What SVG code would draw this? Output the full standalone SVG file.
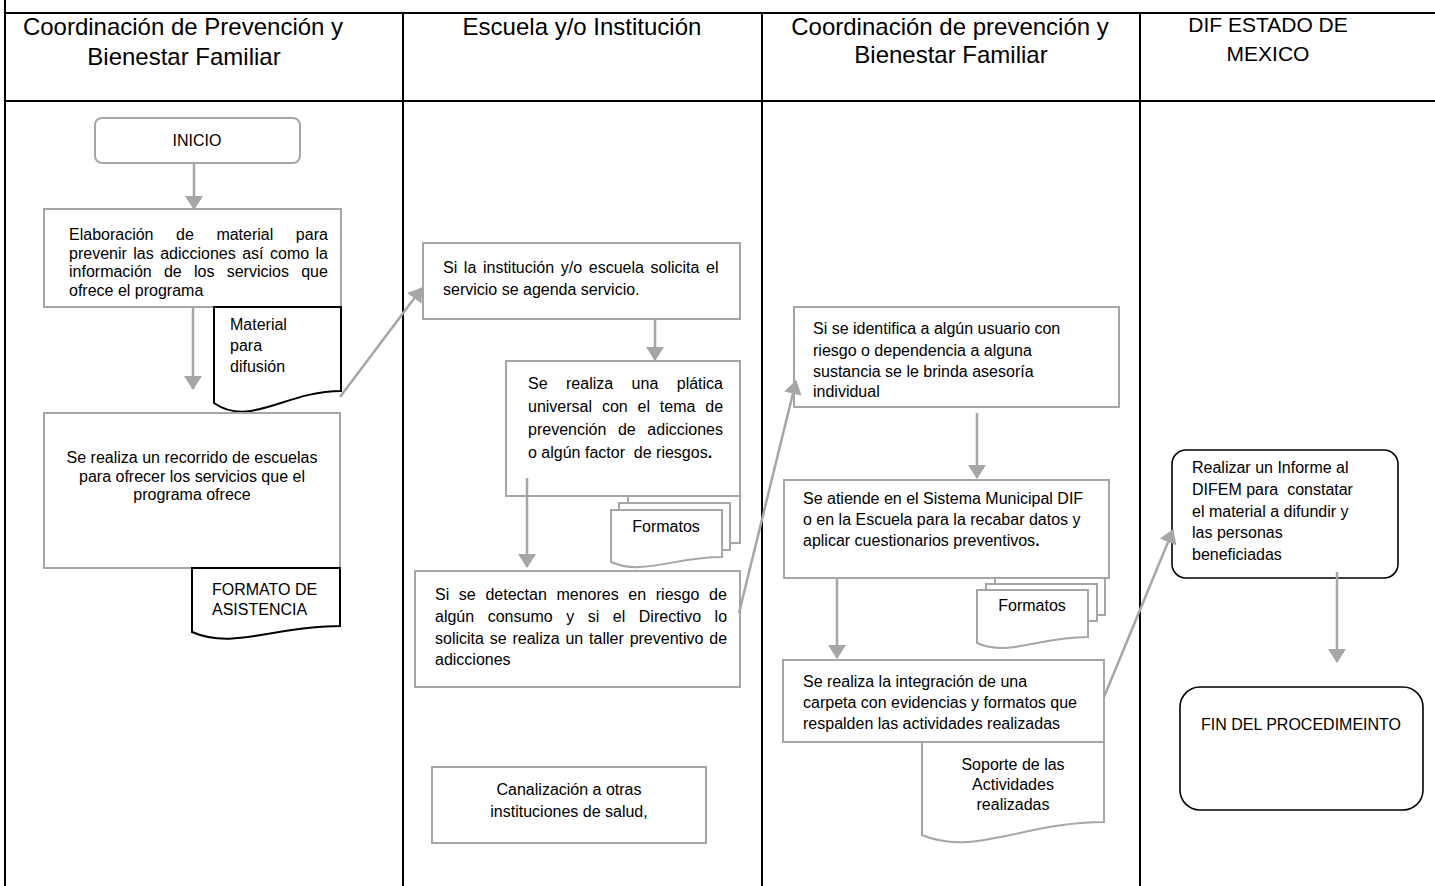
<svg xmlns="http://www.w3.org/2000/svg" width="1435" height="886" viewBox="0 0 1435 886">
  <style>
    text { font-family: "Liberation Sans", Arial, sans-serif; font-size: 16px; fill: #000; }
    .hd { font-size: 24px; }
    .hd2 { font-size: 21px; }
    .mid { text-anchor: middle; }
    .grid { stroke: #000; stroke-width: 2; fill: none; }
    .box { fill: #fff; stroke: #a6a6a6; stroke-width: 2; }
    .doc { fill: #fff; stroke: #000; stroke-width: 2; }
    .gdoc { fill: #fff; stroke: #a6a6a6; stroke-width: 2; }
    .term { fill: #fff; stroke: #000; stroke-width: 1.6; }
    .flow { fill: none; stroke: #a6a6a6; stroke-width: 2.5; marker-end: url(#ah); }
  </style>
  <defs>
    <marker id="ah" viewBox="0 0 14 18" refX="13" refY="9" markerWidth="14" markerHeight="18" markerUnits="userSpaceOnUse" orient="auto">
      <path d="M0,0 L14,9 L0,18 Z" fill="#a6a6a6"/>
    </marker>
  </defs>

  <rect width="1435" height="886" fill="#fff"/>

  <!-- swimlane table -->
  <g id="lanes">
    <path class="grid" d="M5,0 V886 M5,13 H1435 M5,101 H1435 M403,13 V886 M762,13 V886 M1140,13 V886"/>
    <text class="hd mid" x="183" y="35">Coordinación de Prevención y</text>
    <text class="hd mid" x="184" y="65">Bienestar Familiar</text>
    <text class="hd mid" x="582" y="35">Escuela y/o Institución</text>
    <text class="hd mid" x="950" y="35">Coordinación de prevención y</text>
    <text class="hd mid" x="951" y="63">Bienestar Familiar</text>
    <text class="hd2 mid" x="1268" y="32">DIF ESTADO DE</text>
    <text class="hd2 mid" x="1268" y="61">MEXICO</text>
  </g>

  <!-- lane 1 -->
  <g id="inicio">
    <rect class="box" x="95" y="118" width="205" height="45" rx="7"/>
    <text class="mid" x="197" y="146">INICIO</text>
  </g>
  <g id="elaboracion">
    <rect class="box" x="44" y="209" width="297" height="98"/>
    <text x="69" y="240" style="word-spacing:18.1px">Elaboración de material para</text>
    <text x="69" y="258.5" style="word-spacing:2px">prevenir las adicciones así como la</text>
    <text x="69" y="277" style="word-spacing:7.8px">información de los servicios que</text>
    <text x="69" y="295.5">ofrece el programa</text>
  </g>
  <g id="material-difusion">
    <path class="doc" d="M214,307 H341 V391 C285,391 250,428 214,403 Z"/>
    <text x="230" y="330">Material</text>
    <text x="230" y="351">para</text>
    <text x="230" y="372">difusión</text>
  </g>
  <g id="recorrido">
    <rect class="box" x="44" y="413" width="296" height="155"/>
    <text class="mid" x="192" y="463">Se realiza un recorrido de escuelas</text>
    <text class="mid" x="192" y="481.5">para ofrecer los servicios que el</text>
    <text class="mid" x="192" y="500">programa ofrece</text>
  </g>
  <g id="formato-asistencia">
    <path class="doc" d="M192,568 H340 V626 C275,626 233,650 192,632 Z"/>
    <text x="212" y="595">FORMATO DE</text>
    <text x="212" y="615">ASISTENCIA</text>
  </g>

  <!-- lane 2 -->
  <g id="agenda">
    <rect class="box" x="423" y="243" width="317" height="76"/>
    <text x="443" y="273" style="word-spacing:2.2px">Si la institución y/o escuela solicita el</text>
    <text x="443" y="295">servicio se agenda servicio.</text>
  </g>
  <g id="platica">
    <rect class="box" x="506" y="361" width="234" height="135"/>
    <text x="528" y="389" style="word-spacing:14px">Se realiza una plática</text>
    <text x="528" y="412" style="word-spacing:5.4px">universal con el tema de</text>
    <text x="528" y="435" style="word-spacing:7.2px">prevención de adicciones</text>
    <text x="528" y="458" xml:space="preserve">o algún factor  de riesgos<tspan font-weight="bold">.</tspan></text>
  </g>
  <g id="formatos-1">
    <rect class="gdoc" x="628" y="496" width="112" height="47"/>
    <rect class="gdoc" x="619" y="503" width="111" height="47"/>
    <path class="gdoc" d="M611,510 H722 V557 C673,557 642,576 611,562 Z"/>
    <text class="mid" x="666" y="532">Formatos</text>
  </g>
  <g id="taller">
    <rect class="box" x="415" y="571" width="325" height="116"/>
    <text x="435" y="600" style="word-spacing:5.2px">Si se detectan menores en riesgo de</text>
    <text x="435" y="622" style="word-spacing:9.1px">algún consumo y si el Directivo lo</text>
    <text x="435" y="643.5" style="word-spacing:1.4px">solicita se realiza un taller preventivo de</text>
    <text x="435" y="665">adicciones</text>
  </g>
  <g id="canalizacion">
    <rect class="box" x="432" y="767" width="274" height="76"/>
    <text class="mid" x="569" y="795">Canalización a otras</text>
    <text class="mid" x="569" y="817">instituciones de salud,</text>
  </g>

  <!-- lane 3 -->
  <g id="asesoria">
    <rect class="box" x="794" y="307" width="325" height="100"/>
    <text x="813" y="334">Si se identifica a algún usuario con</text>
    <text x="813" y="356">riesgo o dependencia a alguna</text>
    <text x="813" y="377">sustancia se le brinda asesoría</text>
    <text x="813" y="397">individual</text>
  </g>
  <g id="atencion">
    <rect class="box" x="784" y="480" width="325" height="98"/>
    <text x="803" y="504">Se atiende en el Sistema Municipal DIF</text>
    <text x="803" y="525">o en la Escuela para la recabar datos y</text>
    <text x="803" y="546">aplicar cuestionarios preventivos<tspan font-weight="bold">.</tspan></text>
  </g>
  <g id="formatos-2">
    <rect class="gdoc" x="995" y="578" width="110" height="37"/>
    <rect class="gdoc" x="986" y="584" width="111" height="37"/>
    <path class="gdoc" d="M977,590 H1088 V637 C1039,637 1008,657 977,643 Z"/>
    <text class="mid" x="1032" y="611">Formatos</text>
  </g>
  <g id="integracion">
    <rect class="box" x="783" y="660" width="321" height="82"/>
    <text x="803" y="687">Se realiza la integración de una</text>
    <text x="803" y="708">carpeta con evidencias y formatos que</text>
    <text x="803" y="729">respalden las actividades realizadas</text>
  </g>
  <g id="soporte">
    <path class="gdoc" d="M922,742 H1104 V822 C1024,822 973,857 922,835 Z"/>
    <text class="mid" x="1013" y="770">Soporte de las</text>
    <text class="mid" x="1013" y="790">Actividades</text>
    <text class="mid" x="1013" y="810">realizadas</text>
  </g>

  <!-- lane 4 -->
  <g id="informe">
    <rect class="term" x="1172" y="450" width="226" height="128" rx="14"/>
    <text x="1192" y="473">Realizar un Informe al</text>
    <text x="1192" y="495" xml:space="preserve">DIFEM para  constatar</text>
    <text x="1192" y="517">el material a difundir y</text>
    <text x="1192" y="538">las personas</text>
    <text x="1192" y="560">beneficiadas</text>
  </g>
  <g id="fin">
    <rect class="term" x="1180" y="687" width="243" height="123" rx="20"/>
    <text class="mid" x="1301" y="730">FIN DEL PROCEDIMEINTO</text>
  </g>

  <!-- connectors -->
  <g id="connectors">
    <line class="flow" x1="194" y1="163" x2="194" y2="209"/>
    <line class="flow" x1="193" y1="307" x2="193" y2="389"/>
    <line class="flow" x1="340" y1="397" x2="422" y2="288"/>
    <line class="flow" x1="655" y1="319" x2="655" y2="360"/>
    <line class="flow" x1="527" y1="478" x2="527" y2="567"/>
    <line class="flow" x1="739" y1="613" x2="796" y2="381"/>
    <line class="flow" x1="977" y1="413" x2="977" y2="478"/>
    <line class="flow" x1="837" y1="578" x2="837" y2="658"/>
    <line class="flow" x1="1104" y1="697" x2="1173" y2="530"/>
    <line class="flow" x1="1337" y1="572" x2="1337" y2="662"/>
  </g>
</svg>
